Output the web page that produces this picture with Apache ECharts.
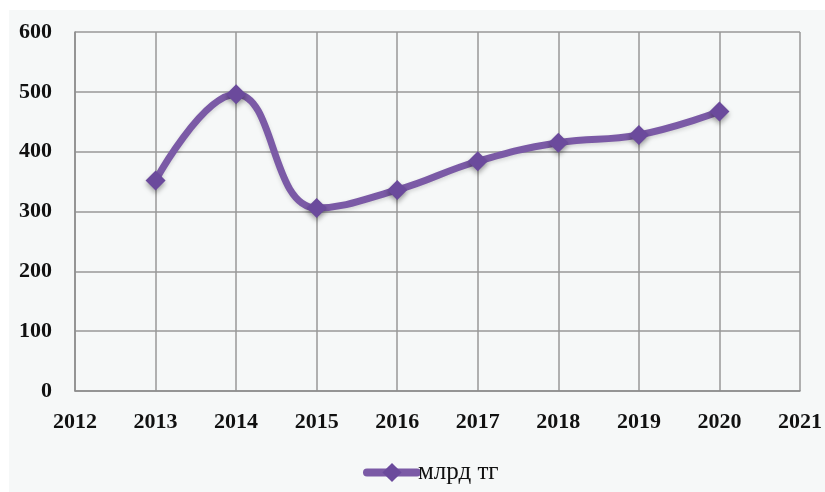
<!DOCTYPE html>
<html><head><meta charset="utf-8">
<script src="https://cdn.jsdelivr.net/npm/echarts@6/dist/echarts.min.js"></script>
<style>
html,body{margin:0;padding:0;background:#ffffff;}
#c{position:absolute;left:9px;top:10px;width:816px;height:482px;background:#f6f8f8;}
</style></head><body>
<div id="c"></div>
<script>
const years = [2013, 2014, 2015, 2016, 2017, 2018, 2019, 2020];
const values = [352, 496, 306, 336, 384, 415, 428, 467];
const seriesName = 'млрд тг';
const xMin = 2012, xMax = 2021;
const yMin = 0, yMax = 600, yStep = 100;

const chart = echarts.init(document.getElementById('c'), null, {renderer: 'canvas'});
const labelFont = {fontFamily: 'Liberation Serif', fontWeight: 'bold', fontSize: 22, color: '#111'};
chart.setOption({
  backgroundColor: '#f6f8f8',
  animation: false,
  grid: {left: 66, right: 24, top: 22, bottom: 101, containLabel: false},
  xAxis: {
    type: 'value', min: xMin, max: xMax, interval: 1,
    axisLine: {show: true, lineStyle: {color: '#8c8c8c', width: 1.5}},
    axisTick: {show: false},
    splitLine: {show: true, lineStyle: {color: '#999', width: 1.5}},
    axisLabel: Object.assign({margin: 20, formatter: v => String(v)}, labelFont)
  },
  yAxis: {
    type: 'value', min: yMin, max: yMax, interval: yStep,
    axisLine: {show: true, lineStyle: {color: '#8c8c8c', width: 1.5}},
    axisTick: {show: false},
    splitLine: {show: true, lineStyle: {color: '#999', width: 1.5}},
    axisLabel: Object.assign({margin: 23, formatter: v => String(v)}, labelFont)
  },
  legend: {
    show: true, left: 349, top: 445, itemWidth: 50, itemHeight: 24, itemGap: 4,
    textStyle: {fontFamily: 'Liberation Serif', fontSize: 25, color: '#111', padding: [0,0,0,-4]},
    data: [{name: seriesName, lineStyle: {width: 8, color: '#7b5aa6', cap: 'round'}, itemStyle: {color: '#6b4a9c'}}]
  },
  series: [{
    name: seriesName, type: 'line', smooth: 0.45,
    data: years.map((y, i) => [y, values[i]]),
    symbol: 'diamond', symbolSize: 20,
    lineStyle: {color: '#7b5aa6', width: 7, shadowColor: 'rgba(0,0,0,0.15)', shadowBlur: 4, shadowOffsetY: 2},
    itemStyle: {color: '#6b4a9c', shadowColor: 'rgba(0,0,0,0.35)', shadowBlur: 5, shadowOffsetY: 3}
  }]
});
</script>
</body></html>
